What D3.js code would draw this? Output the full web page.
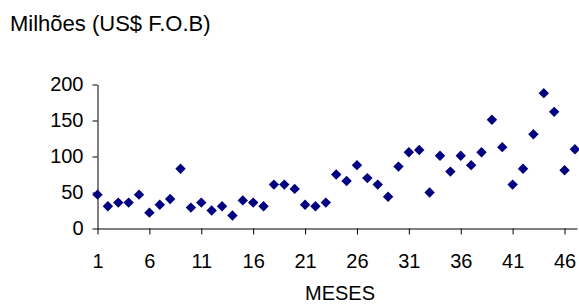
<!DOCTYPE html>
<html>
<head>
<meta charset="utf-8">
<script src="https://cdn.jsdelivr.net/npm/d3@7"></script>
<style>
  body { margin: 0; background: #fff; }
  svg { display: block; font-family: "Liberation Sans", Arial, sans-serif; }
  .axis path, .axis line { stroke: #000; }
  .axis text { font-size: 20px; fill: #000; }
</style>
</head>
<body>
<div class="graph-container"></div>
<script>
// month index (1..47) and value in millions US$ F.O.B
var meses = d3.range(1, 48);
var valores = [47, 31, 36, 36, 47, 22, 33, 41, 83, 29,
  36, 25, 31, 18, 39, 36, 31, 61, 61, 55,
  33, 31, 36, 75, 66, 88, 70, 61, 44, 86,
  106, 109, 50, 101, 79, 101, 88, 106, 151, 113,
  61, 83, 131, 188, 162, 81, 110];
var xTicks = [1, 6, 11, 16, 21, 26, 31, 36, 41, 46];
var yTicks = [0, 50, 100, 150, 200];

var svgWidth = 579;
var svgHeight = 305;
var plotLeft = 97.5;
var plotRight = 577;
var plotTop = 84.5;
var plotBottom = 228.5;

var svg = d3.select('.graph-container').append('svg')
  .attr('width', svgWidth)
  .attr('height', svgHeight);

var xScale = d3.scaleLinear()
  .domain([1, 47.2])
  .range([plotLeft, plotRight]);

var yScale = d3.scaleLinear()
  .domain([0, 200])
  .range([plotBottom, plotTop]);

// axes
var xAxis = d3.axisBottom(xScale)
  .tickValues(xTicks)
  .tickSize(6)
  .tickSizeOuter(0)
  .tickPadding(19);
svg.append('g')
  .attr('class', 'axis')
  .attr('transform', 'translate(0,' + plotBottom + ')')
  .call(xAxis);

var yAxis = d3.axisLeft(yScale)
  .tickValues(yTicks)
  .tickSize(5)
  .tickSizeOuter(0)
  .tickPadding(9);
svg.append('g')
  .attr('class', 'axis')
  .attr('transform', 'translate(' + plotLeft + ',0)')
  .call(yAxis);

// diamond markers
var pontos = meses.map(function(m, i) { return { mes: m, valor: valores[i] }; });
svg.selectAll('path.ponto')
  .data(pontos)
  .enter()
  .append('path')
  .attr('class', 'ponto')
  .attr('d', 'M0,-5.2L5.2,0L0,5.2L-5.2,0Z')
  .attr('transform', function(d) {
    return 'translate(' + xScale(d.mes) + ',' + yScale(d.valor) + ')';
  })
  .attr('fill', '#000080');

// title
svg.append('text')
  .attr('x', 10)
  .attr('y', 31)
  .style('font-size', '22px')
  .text('Milhões (US$ F.O.B)');

// x-axis label
svg.append('text')
  .attr('x', 340)
  .attr('y', 300)
  .style('text-anchor', 'middle')
  .style('font-size', '20px')
  .text('MESES');
</script>
</body>
</html>
